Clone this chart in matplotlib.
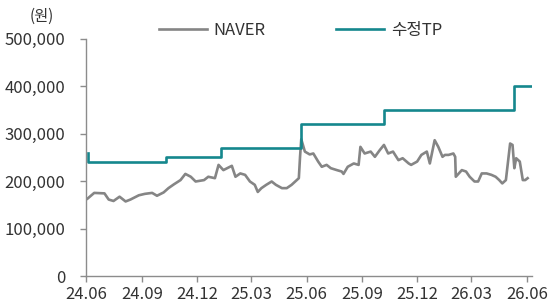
import matplotlib
matplotlib.use("Agg")
import matplotlib.pyplot as plt
import matplotlib.dates as mdates
from matplotlib.ticker import FuncFormatter
import pandas as pd

plt.rcParams['font.family'] = ['Noto Sans CJK KR', 'DejaVu Sans']

# NAVER share price (won)
price_dates = [
    "2024-06-03", "2024-06-14", "2024-07-01", "2024-07-08", "2024-07-16", "2024-07-26",
    "2024-08-05", "2024-08-13", "2024-08-27", "2024-09-06", "2024-09-18", "2024-09-26",
    "2024-10-07", "2024-10-15", "2024-10-24", "2024-11-04", "2024-11-12", "2024-11-21",
    "2024-11-29", "2024-12-13", "2024-12-20", "2024-12-31", "2025-01-06", "2025-01-14",
    "2025-01-28", "2025-02-03", "2025-02-11", "2025-02-19", "2025-02-27", "2025-03-07",
    "2025-03-12", "2025-03-18", "2025-03-26", "2025-04-04", "2025-04-11", "2025-04-21",
    "2025-04-29", "2025-05-07", "2025-05-13", "2025-05-19", "2025-05-21", "2025-05-23",
    "2025-05-29", "2025-06-06", "2025-06-12", "2025-06-20", "2025-06-26", "2025-07-04",
    "2025-07-11", "2025-07-21", "2025-07-29", "2025-08-01", "2025-08-08", "2025-08-18",
    "2025-08-26", "2025-08-29", "2025-09-05", "2025-09-15", "2025-09-22", "2025-09-30",
    "2025-10-07", "2025-10-14", "2025-10-22", "2025-10-31", "2025-11-07", "2025-11-17",
    "2025-11-21", "2025-12-01", "2025-12-08", "2025-12-17", "2025-12-22", "2025-12-30",
    "2026-01-05", "2026-01-12", "2026-01-16", "2026-01-22", "2026-01-30", "2026-02-02",
    "2026-02-03", "2026-02-13", "2026-02-20", "2026-02-26", "2026-03-06", "2026-03-12",
    "2026-03-18", "2026-03-26", "2026-04-03", "2026-04-10", "2026-04-16", "2026-04-21",
    "2026-04-27", "2026-05-04", "2026-05-08", "2026-05-11", "2026-05-14", "2026-05-20",
    "2026-05-25", "2026-05-29", "2026-06-02",
]
price = [
    163000, 175000, 174000, 161000, 158000, 167000,
    157000, 161000, 170000, 173000, 175000, 169000,
    176000, 185000, 193000, 202000, 215000, 209000,
    199000, 202000, 209000, 206000, 234000, 223000,
    232000, 209000, 216000, 213000, 199000, 192000,
    177000, 185000, 192000, 199000, 192000, 185000,
    185000, 192000, 199000, 206000, 251000, 288000,
    262000, 256000, 258000, 241000, 230000, 234000,
    227000, 223000, 220000, 215000, 230000, 237000,
    234000, 272000, 258000, 262000, 251000, 265000,
    276000, 258000, 262000, 244000, 248000, 237000,
    234000, 241000, 255000, 262000, 237000, 286000,
    272000, 251000, 255000, 255000, 258000, 251000,
    209000, 223000, 220000, 209000, 199000, 199000,
    216000, 216000, 213000, 209000, 202000, 195000,
    202000, 279000, 276000, 227000, 248000, 241000,
    202000, 202000, 206000,
]

# target price revisions
tp_dates = ["2024-06-03", "2024-06-04", "2024-10-11", "2025-01-10",
            "2025-05-22", "2025-10-07", "2026-05-11", "2026-06-09"]
tp = [260000, 240000, 250000, 270000, 320000, 350000, 400000, 400000]

tick_dates = ["2024-06-01", "2024-09-01", "2024-12-01", "2025-03-01", "2025-06-01",
              "2025-09-01", "2025-12-01", "2026-03-01", "2026-06-01"]
y_ticks = [0, 100000, 200000, 300000, 400000, 500000]

gray = "#858585"
teal = "#15878d"

fig = plt.figure(figsize=(5.5, 3.06), dpi=100)
ax = fig.add_axes([0.157, 0.098, 0.81, 0.776])

ax.plot(pd.to_datetime(price_dates), price, color=gray, lw=1.9, label="NAVER")
ax.plot(pd.to_datetime(tp_dates), tp, color=teal, lw=1.9, drawstyle="steps-post", label="수정TP")

ax.set_ylim(0, 500000)
ax.set_xlim(pd.Timestamp("2024-06-01"), pd.Timestamp("2026-06-09"))
ax.set_yticks(y_ticks)
ax.yaxis.set_major_formatter(FuncFormatter(lambda v, p: f"{int(v):,}"))
ax.set_xticks(pd.to_datetime(tick_dates))
ax.xaxis.set_major_formatter(mdates.DateFormatter("%y.%m"))

for s in ["top", "right"]:
    ax.spines[s].set_visible(False)
for s in ["left", "bottom"]:
    ax.spines[s].set_color("#8c8c8c")
    ax.spines[s].set_linewidth(1.0)
ax.tick_params(direction="out", length=4, width=1.0, color="#8c8c8c",
               labelsize=12, labelcolor="#333333")
ax.tick_params(axis="y", pad=11)
ax.tick_params(axis="x", pad=3)

ax.text(-0.099, 1.092, "(원)", transform=ax.transAxes, fontsize=11, color="#333333", ha="center", va="center")

ax.legend(loc="center", bbox_to_anchor=(0.48, 1.034), ncol=2, frameon=False,
          fontsize=12, handlelength=2.9, columnspacing=4.2, handletextpad=0.4,
          labelcolor="#333333")

fig.savefig("out.png", dpi=100)
